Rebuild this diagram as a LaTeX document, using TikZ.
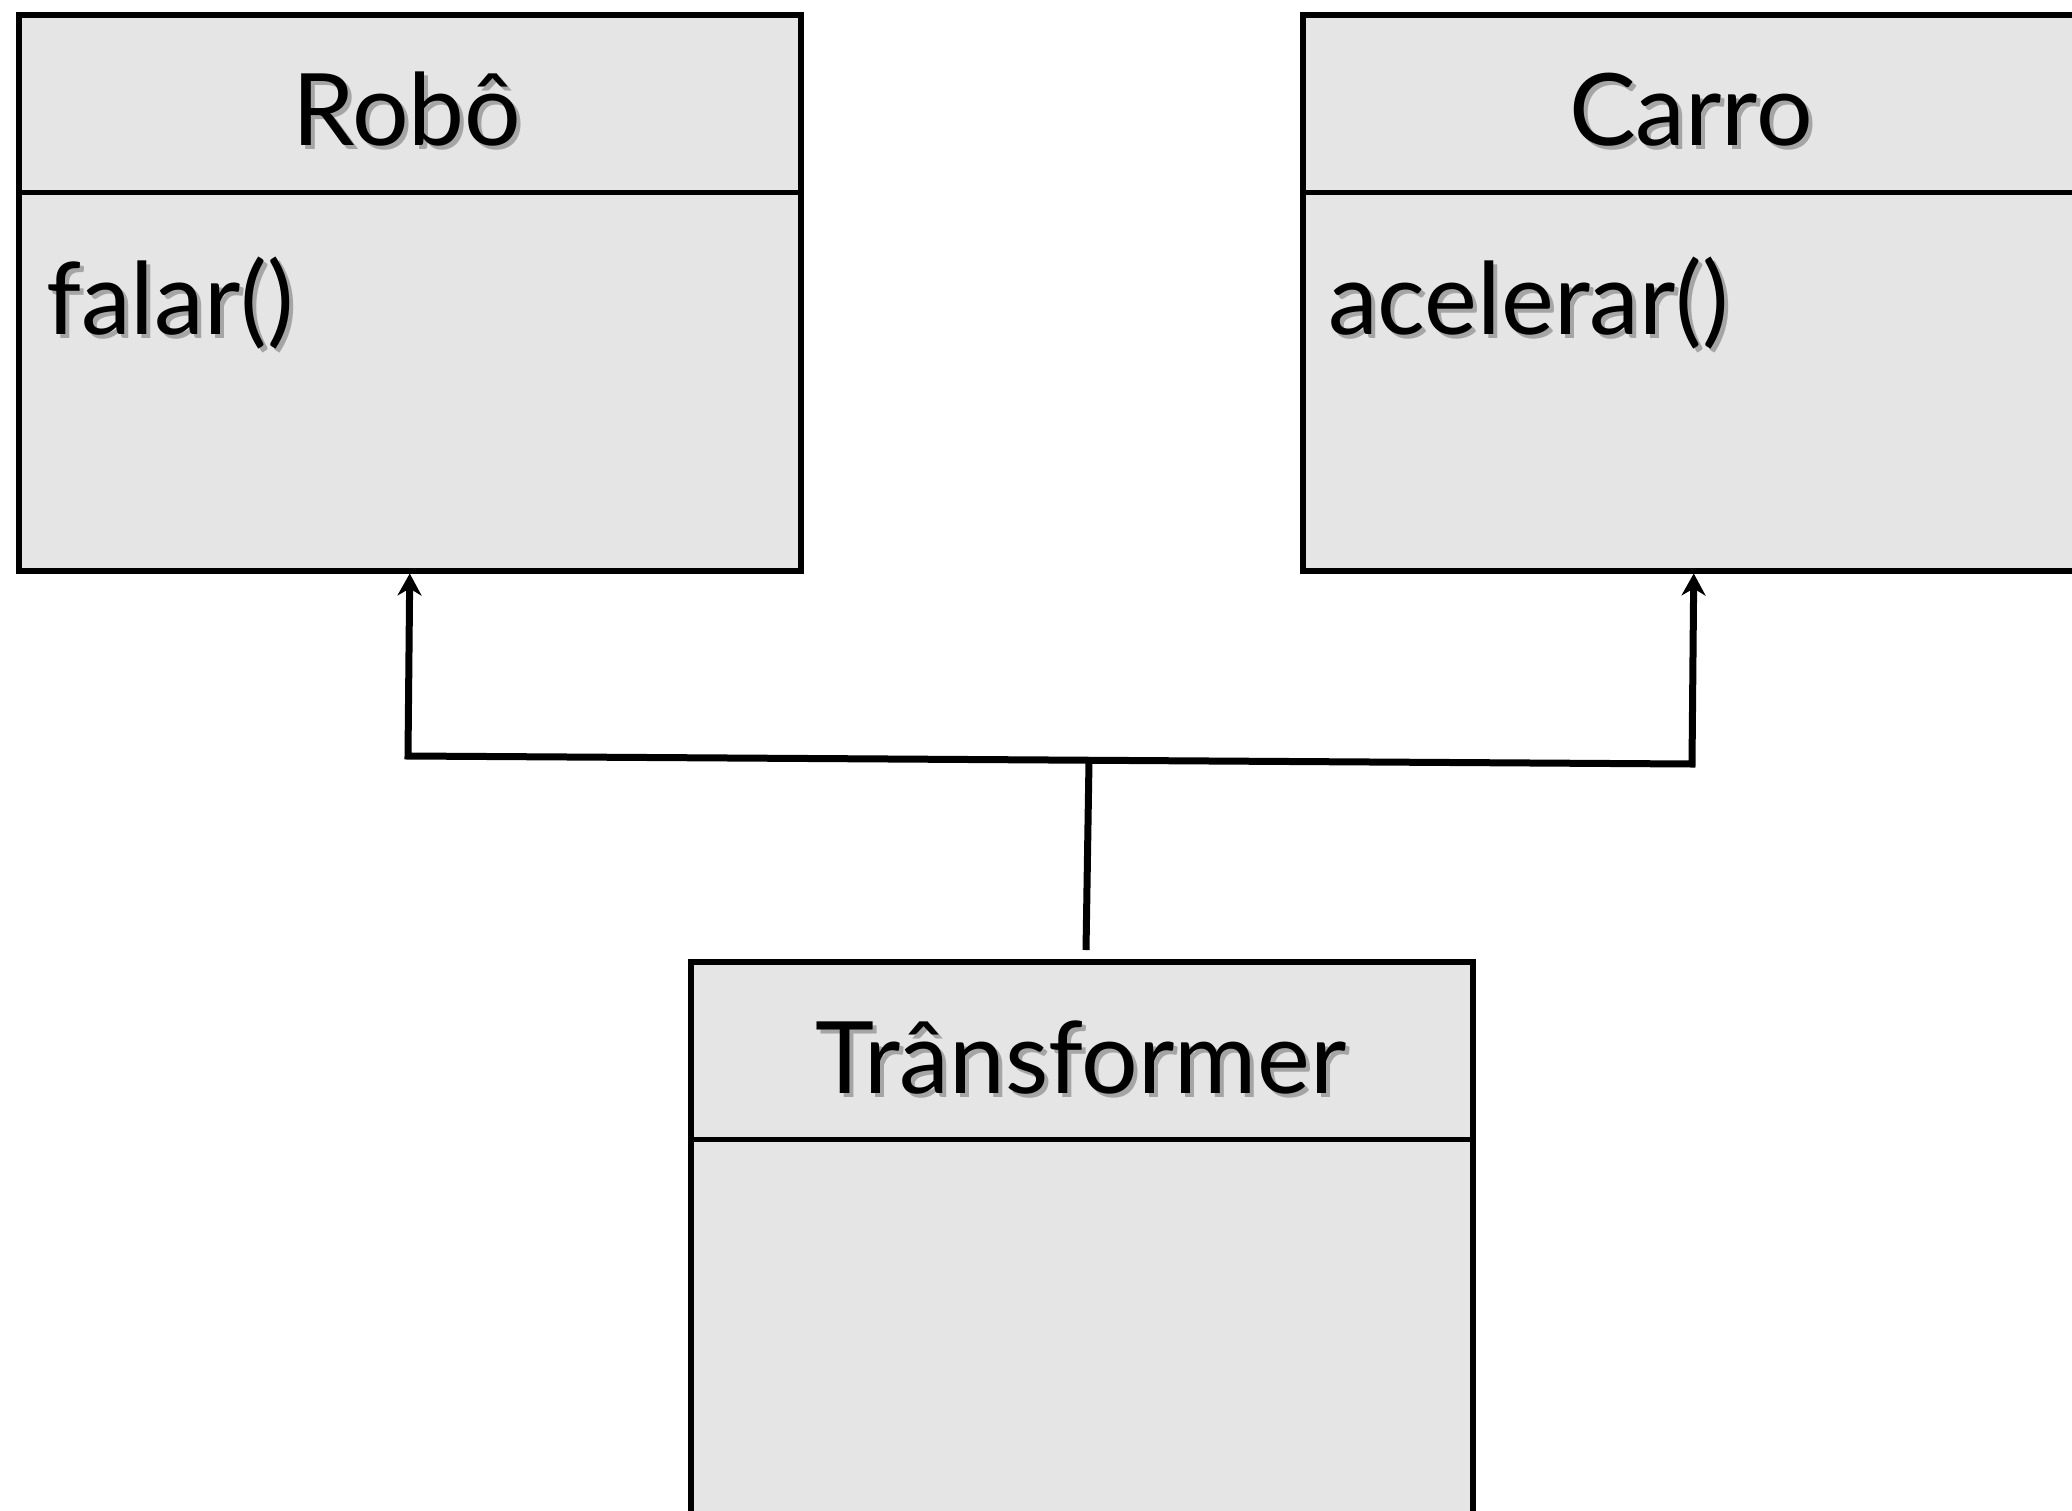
\documentclass[tikz,border=0pt]{standalone}
\usepackage{fontspec}
\setmainfont{Lato}
\usetikzlibrary{arrows.meta}
\definecolor{boxfill}{RGB}{229,229,229}
\definecolor{shadowgray}{RGB}{165,165,165}
\newcommand\shadowed[1]{\makebox[0pt][l]{\kern4pt\raisebox{-4pt}{\textcolor{shadowgray}{#1}}}#1}
\begin{document}
\begin{tikzpicture}[x=1pt,y=-1pt,
  classbox/.style={draw=black, fill=boxfill, line width=5.5pt, anchor=north west, inner sep=0pt, minimum width=782pt},
  sepline/.style={line width=5pt},
  lbl/.style={inner sep=0pt, font=\fontsize{100}{110}\selectfont},
  conn/.style={line width=7pt, line join=miter}]
\useasboundingbox (0,0) rectangle (2072,1510);
\clip (0,0) rectangle (2072,1510);
\fill[white] (0,0) rectangle (2072,1510);
% boxes
\node[classbox, minimum height=556pt] (robo) at (16,12) {};
\node[classbox, minimum height=556pt] (carro) at (1300,12) {};
\node[classbox, minimum height=700pt] (trans) at (688,959) {};
% separators
\draw[sepline] (16,192) -- (798,192);
\draw[sepline] (1300,192) -- (2090,192);
\draw[sepline] (688,1139) -- (1470,1139);
% labels
\node[lbl, anchor=base] (robot) at (407,145) {\shadowed{Robô}};
\node[lbl, anchor=base] (carrot) at (1691,145) {\shadowed{Carro}};
\node[lbl, anchor=base] (transt) at (1081,1093) {\shadowed{Trânsformer}};
\node[lbl, anchor=base west] (robom) at (46,334) {\shadowed{falar()}};
\node[lbl, anchor=base west] (carrom) at (1328,334) {\shadowed{acelerar()}};
% connectors
\coordinate (jl) at (408,756);
\coordinate (jr) at (1692,764);
\coordinate (jm) at (1089,761);
\coordinate (ts) at (1086,950);
\draw[conn, {Stealth[length=22pt,width=24pt,inset=7pt]}-{Stealth[length=22pt,width=24pt,inset=7pt]}] (robo.south) -- (jl) -- (jr) -- (carro.south);
\draw[conn] (jm) -- (ts);
\end{tikzpicture}
\end{document}
